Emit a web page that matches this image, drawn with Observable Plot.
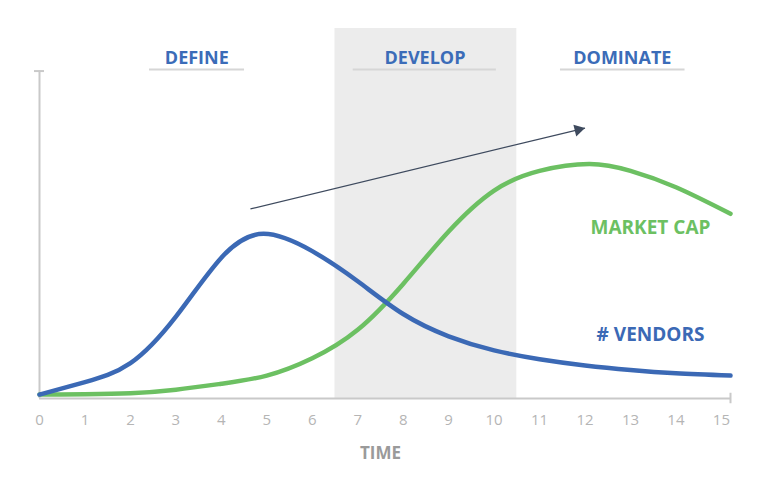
<!DOCTYPE html>
<html>
<head>
<meta charset="utf-8">
<script src="https://cdn.jsdelivr.net/npm/d3@7"></script>
<script src="https://cdn.jsdelivr.net/npm/@observablehq/plot@0.6"></script>
<style>
  html, body { margin: 0; padding: 0; background: #fff; }
  #chart svg { display: block; }
</style>
</head>
<body>
<div id="chart"></div>
<script>
// ---- data ----
const vendorTime  = [0, 1, 2, 3, 4, 4.93, 6, 7, 8, 9, 10, 11, 12, 13, 14, 15.2];
const vendorValue = [1.2, 5, 10.8, 25, 43, 50.3, 45, 35.8, 25.8, 19, 14.7, 12, 10.1, 8.7, 7.7, 7.0];

const capTime  = [0, 1, 2, 3, 4, 5, 6, 7, 8, 9, 10, 11, 12.1, 13, 14, 15.2];
const capValue = [1.2, 1.3, 1.6, 2.7, 4.5, 7.0, 12.3, 21, 35, 51, 63.5, 69.5, 71.6, 69.5, 64.5, 56.4];

const xTicks = [0, 1, 2, 3, 4, 5, 6, 7, 8, 9, 10, 11, 12, 13, 14, 15];

const phases      = ["DEFINE", "DEVELOP", "DOMINATE"];
const phaseCenter = [3.46, 8.48, 12.82];
const phaseFrom   = [2.42, 6.9, 11.46];
const phaseTo     = [4.51, 10.05, 14.2];

const bandFrom = 6.5, bandTo = 10.5;      // shaded "develop" period
const xMax = 15.2, yMax = 113, yAxisTop = 100;

const trend = {x1: 4.64, y1: 57.9, x2: 12.0, y2: 82.6};

const seriesLabels = ["MARKET CAP", "# VENDORS"];
const seriesLabelX = [13.44, 13.44];
const seriesLabelY = [52.2, 19.5];

// ---- tables built from the arrays ----
const vendors = vendorTime.map((t, i) => ({t, v: vendorValue[i]}));
const cap = capTime.map((t, i) => ({t, v: capValue[i]}));
const phaseRows = phases.map((name, i) => ({name, c: phaseCenter[i], s: phaseFrom[i], e: phaseTo[i]}));
const labelRows = seriesLabels.map((name, i) => ({name, x: seriesLabelX[i], y: seriesLabelY[i]}));

const BLUE = "#3b69b5", GREEN = "#6cc062", GRID = "#c9c9c9", ARROW = "#3e4a5e";

const chart = Plot.plot({
  width: 768,
  height: 487,
  marginLeft: 39,
  marginRight: 38,
  marginTop: 28,
  marginBottom: 89,
  style: {fontFamily: "'Open Sans', sans-serif", background: "#fff", overflow: "visible"},
  x: {domain: [0, xMax], axis: null},
  y: {domain: [0, yMax], axis: null},
  marks: [
    Plot.rect([{a: bandFrom, b: bandTo}], {x1: "a", x2: "b", y1: () => 0, y2: () => yMax, fill: "#ececec"}),
    // header underlines + titles
    Plot.ruleY(phaseRows, {y: () => 100.5, x1: "s", x2: "e", stroke: "#d6d6d6", strokeWidth: 2}),
    Plot.text(phaseRows, {x: "c", y: () => 103.9, text: "name", fill: "#3b6cb8", fontSize: 18, fontWeight: 700, style: {letterSpacing: "0.4px"}}),
    // axes lines
    Plot.ruleX([0], {y1: () => 0, y2: () => yAxisTop, stroke: GRID, strokeWidth: 2}),
    Plot.ruleY([yAxisTop], {x1: () => -0.11, x2: () => 0.11, stroke: GRID, strokeWidth: 2}),
    Plot.ruleY([0], {x1: () => 0, x2: () => xMax, stroke: GRID, strokeWidth: 2}),
    Plot.ruleX([xMax], {y1: () => -1.6, y2: () => 1.6, stroke: GRID, strokeWidth: 2}),
    Plot.axisX({ticks: xTicks, tickSize: 0, tickPadding: 16, fontSize: 15, fill: "#b5b5b5", label: null, tickFormat: d => String(d)}),
    Plot.text(["TIME"], {x: () => 7.5, frameAnchor: "bottom", dy: 60, fill: "#9a9a9a", fontSize: 17, fontWeight: 700}),
    // trend arrow: shaft + filled head
    Plot.link([trend], {x1: "x1", y1: "y1", x2: "x2", y2: "y2", stroke: ARROW, strokeWidth: 1.3}),
    Plot.dot([trend], {x: "x2", y: "y2", symbol: "triangle", r: 4.5, rotate: 76.4, dx: -6.8, dy: 1.7, fill: ARROW, stroke: "none"}),
    // curves
    Plot.line(cap, {x: "t", y: "v", stroke: GREEN, strokeWidth: 4.5, curve: "natural"}),
    Plot.line(vendors, {x: "t", y: "v", stroke: BLUE, strokeWidth: 4.5, curve: "natural"}),
    Plot.text(labelRows, {x: "x", y: "y", text: "name", fill: (d, i) => i === 0 ? GREEN : BLUE, fontSize: 19, fontWeight: 700})
  ]
});
document.getElementById("chart").appendChild(chart);
</script>
</body>
</html>
